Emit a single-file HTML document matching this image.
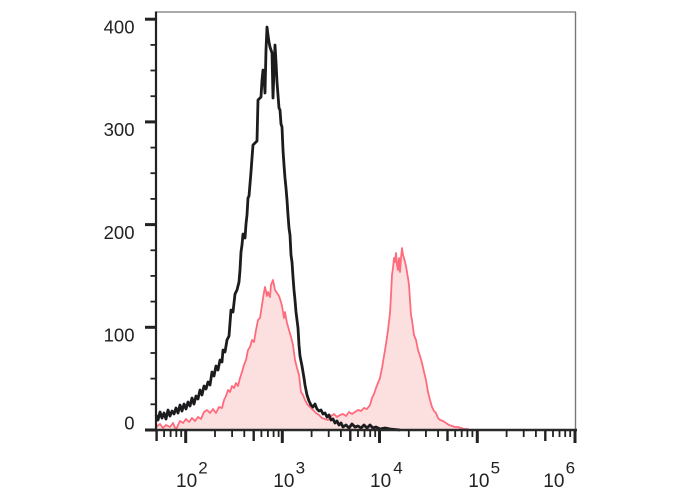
<!DOCTYPE html>
<html>
<head>
<meta charset="utf-8">
<style>
html,body{margin:0;padding:0;background:#fff;}
svg{display:block;}
text{font-family:"Liberation Sans",Arial,sans-serif;fill:#222;}
</style>
</head>
<body>
<svg width="688" height="490" viewBox="0 0 688 490" xmlns="http://www.w3.org/2000/svg">
<rect width="688" height="490" fill="#fff"/>

<!-- pink filled histogram -->
<polygon fill="#fce0e0" stroke="none" points="156,430 156,427 160,424 163,428 166,425 170,427 173,423 176,430 178,425 180,421 183,423 186,419 189,422 192,418 195,421 198,417 201,419 204,412 207,410 210,413 213,409 216,413 219,407 222,408 224,400 226,396 228,390 230,392 232,386 234,388 236,383 238,386 240,378 242,372 244,365 246,360 248,350 250,347 252,340 254,342 256,330 258,320 260,318 262,305 264,292 265,287 267,296 268,292 270,297 271,285 273,280 275,290 277,293 279,296 281,302 282,306 284,318 285,312 287,323 289,330 291,337 293,345 295,360 297,368 299,375 301,392 303,395 305,400 307,404 310,407 313,410 316,413 319,415 322,418 325,419 328,420 331,416 334,414 337,417 340,415 343,414 346,416 349,412 352,414 355,412 358,410 361,411 364,408 367,409 370,405 372,398 374,394 376,388 378,383 380,378 382,368 384,356 386,344 388,330 390,313 391,295 392,275 393,268 394,258 395,262 396,253 397,265 398,270 399,258 400,272 401,258 402,248 403,255 404,258 405,262 406,266 407,272 408,278 409,285 410,300 411,315 412,320 414,335 416,340 418,350 420,356 422,363 424,372 426,380 428,392 430,400 432,407 434,411 436,413 438,418 440,420 443,421 446,423 449,425 452,426 455,427 458,427 461,428 464,429 467,429 470,430"/>
<polyline fill="none" stroke="#ff6a7c" stroke-width="1.8" stroke-linejoin="round" points="156,427 160,424 163,428 166,425 170,427 173,423 176,430 178,425 180,421 183,423 186,419 189,422 192,418 195,421 198,417 201,419 204,412 207,410 210,413 213,409 216,413 219,407 222,408 224,400 226,396 228,390 230,392 232,386 234,388 236,383 238,386 240,378 242,372 244,365 246,360 248,350 250,347 252,340 254,342 256,330 258,320 260,318 262,305 264,292 265,287 267,296 268,292 270,297 271,285 273,280 275,290 277,293 279,296 281,302 282,306 284,318 285,312 287,323 289,330 291,337 293,345 295,360 297,368 299,375 301,392 303,395 305,400 307,404 310,407 313,410 316,413 319,415 322,418 325,419 328,420 331,416 334,414 337,417 340,415 343,414 346,416 349,412 352,414 355,412 358,410 361,411 364,408 367,409 370,405 372,398 374,394 376,388 378,383 380,378 382,368 384,356 386,344 388,330 390,313 391,295 392,275 393,268 394,258 395,262 396,253 397,265 398,270 399,258 400,272 401,258 402,248 403,255 404,258 405,262 406,266 407,272 408,278 409,285 410,300 411,315 412,320 414,335 416,340 418,350 420,356 422,363 424,372 426,380 428,392 430,400 432,407 434,411 436,413 438,418 440,420 443,421 446,423 449,425 452,426 455,427 458,427 461,428 464,429 467,429 470,430"/>

<!-- black histogram -->
<polyline fill="none" stroke="#1c1c1e" stroke-width="2.8" stroke-linejoin="round" points="156,415 158,420 160,412 162,418 164,413 166,419 168,410 170,416 172,411 174,414 176,408 178,413 180,405 182,411 184,404 186,409 188,402 190,406 192,398 194,404 196,396 198,399 200,390 202,395 204,386 206,389 208,382 210,385 212,372 214,376 216,366 218,370 220,360 222,362 223,350 225,352 227,340 229,336 231,310 233,312 235,294 237,290 239,282 240,270 241,252 242,245 243,234 245,238 246,224 247,215 248,198 249,196 250,184 251,172 252,158 253,145 255,143 257,141 258,100 259,99 261,97 262,80 263,70 264,78 265,93 266,50 267,27 268,35 269,42 270,47 271,50 272,53 273,98 274,70 275,45 276,62 277,82 278,95 279,108 280,110 281,124 282,127 283,150 284,165 285,178 286,188 287,200 288,215 289,228 290,235 291,255 292,262 293,277 294,290 295,300 296,312 297,320 298,328 299,345 300,356 302,366 304,378 305,385 307,395 309,401 311,405 313,407 315,404 317,409 319,411 321,410 323,414 325,413 327,417 329,415 331,420 333,419 335,423 337,421 339,425 341,423 343,427 346,425 349,428 352,424 355,427 358,426 361,428 364,425 367,428 370,425 373,428 376,427 380,429 385,428 390,429 400,430"/>

<!-- frame -->
<line x1="156" y1="12" x2="576" y2="12" stroke="#777" stroke-width="1.2"/>
<line x1="575.5" y1="12" x2="575.5" y2="430" stroke="#777" stroke-width="1.4"/>
<line x1="156" y1="11.5" x2="156" y2="431" stroke="#222" stroke-width="2.2"/>
<line x1="155" y1="430" x2="577" y2="430" stroke="#2a2a2a" stroke-width="2.6"/>

<!-- y ticks -->
<g stroke="#222">
<g stroke-width="3">
<line x1="145" y1="430" x2="156" y2="430"/>
<line x1="145" y1="327.3" x2="156" y2="327.3"/>
<line x1="145" y1="224.6" x2="156" y2="224.6"/>
<line x1="145" y1="121.9" x2="156" y2="121.9"/>
<line x1="145" y1="19.2" x2="156" y2="19.2"/>
</g>
<g stroke-width="1.8">
<line x1="150.5" y1="404.3" x2="156" y2="404.3"/>
<line x1="150.5" y1="378.6" x2="156" y2="378.6"/>
<line x1="150.5" y1="353" x2="156" y2="353"/>
<line x1="150.5" y1="301.6" x2="156" y2="301.6"/>
<line x1="150.5" y1="275.9" x2="156" y2="275.9"/>
<line x1="150.5" y1="250.3" x2="156" y2="250.3"/>
<line x1="150.5" y1="198.9" x2="156" y2="198.9"/>
<line x1="150.5" y1="173.2" x2="156" y2="173.2"/>
<line x1="150.5" y1="147.6" x2="156" y2="147.6"/>
<line x1="150.5" y1="96.2" x2="156" y2="96.2"/>
<line x1="150.5" y1="70.5" x2="156" y2="70.5"/>
<line x1="150.5" y1="44.9" x2="156" y2="44.9"/>
</g>
</g>

<!-- x ticks -->
<g stroke="#222">
<g stroke-width="3">
<line x1="185.7" y1="430" x2="185.7" y2="443"/>
<line x1="282.3" y1="430" x2="282.3" y2="443"/>
<line x1="379.5" y1="430" x2="379.5" y2="443"/>
<line x1="477.3" y1="430" x2="477.3" y2="443"/>
<line x1="575" y1="430" x2="575" y2="443"/>
</g>
<g stroke-width="2.4">
<line x1="156.6" y1="430" x2="156.6" y2="441"/>
<line x1="253.7" y1="430" x2="253.7" y2="441"/>
<line x1="350.3" y1="430" x2="350.3" y2="441"/>
<line x1="447.5" y1="430" x2="447.5" y2="441"/>
<line x1="545.3" y1="430" x2="545.3" y2="441"/>
</g>
<g stroke-width="1.8">
<line x1="164.1" y1="430" x2="164.1" y2="437"/>
<line x1="170.6" y1="430" x2="170.6" y2="437"/>
<line x1="176.3" y1="430" x2="176.3" y2="437"/>
<line x1="181.2" y1="430" x2="181.2" y2="437"/>

<line x1="215.0" y1="430" x2="215.0" y2="437"/>
<line x1="232.1" y1="430" x2="232.1" y2="437"/>
<line x1="244.3" y1="430" x2="244.3" y2="437"/>
<line x1="261.4" y1="430" x2="261.4" y2="437"/>
<line x1="267.9" y1="430" x2="267.9" y2="437"/>
<line x1="273.6" y1="430" x2="273.6" y2="437"/>
<line x1="278.6" y1="430" x2="278.6" y2="437"/>

<line x1="311.6" y1="430" x2="311.6" y2="437"/>
<line x1="328.7" y1="430" x2="328.7" y2="437"/>
<line x1="340.9" y1="430" x2="340.9" y2="437"/>
<line x1="358.0" y1="430" x2="358.0" y2="437"/>
<line x1="364.5" y1="430" x2="364.5" y2="437"/>
<line x1="370.2" y1="430" x2="370.2" y2="437"/>
<line x1="375.2" y1="430" x2="375.2" y2="437"/>

<line x1="408.8" y1="430" x2="408.8" y2="437"/>
<line x1="425.9" y1="430" x2="425.9" y2="437"/>
<line x1="438.1" y1="430" x2="438.1" y2="437"/>
<line x1="455.2" y1="430" x2="455.2" y2="437"/>
<line x1="461.7" y1="430" x2="461.7" y2="437"/>
<line x1="467.4" y1="430" x2="467.4" y2="437"/>
<line x1="472.4" y1="430" x2="472.4" y2="437"/>

<line x1="506.6" y1="430" x2="506.6" y2="437"/>
<line x1="523.7" y1="430" x2="523.7" y2="437"/>
<line x1="535.9" y1="430" x2="535.9" y2="437"/>
<line x1="553.0" y1="430" x2="553.0" y2="437"/>
<line x1="559.5" y1="430" x2="559.5" y2="437"/>
<line x1="565.2" y1="430" x2="565.2" y2="437"/>
<line x1="570.2" y1="430" x2="570.2" y2="437"/>
</g>
</g>

<!-- y labels -->
<g font-size="18.5" text-anchor="end">
<text x="134.5" y="33.5">400</text>
<text x="134.5" y="136.2">300</text>
<text x="134.5" y="238.9">200</text>
<text x="134.5" y="341.6">100</text>
<text x="134.5" y="429.5">0</text>
</g>

<!-- x labels -->
<g>
<text x="176" y="487" font-size="19">10</text><text x="198.3" y="473.5" font-size="17">2</text>
<text x="273.3" y="487" font-size="19">10</text><text x="295.6" y="473.5" font-size="17">3</text>
<text x="370" y="487" font-size="19">10</text><text x="393.3" y="473.5" font-size="17">4</text>
<text x="468.3" y="487" font-size="19">10</text><text x="490.6" y="473.5" font-size="17">5</text>
<text x="543.3" y="487" font-size="19">10</text><text x="565.6" y="473.5" font-size="17">6</text>
</g>
</svg>
</body>
</html>
